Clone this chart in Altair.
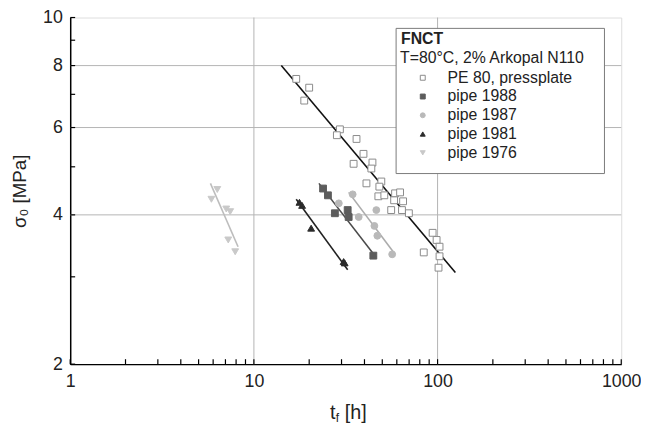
import altair as alt
import pandas as pd

FONT = "Liberation Sans"

# ---- data ----
series_names = ["PE 80, pressplate", "pipe 1988", "pipe 1987", "pipe 1981", "pipe 1976"]

pe_x = [17.0, 20.0, 18.8, 29.4, 28.3, 36.2, 39.5, 34.9, 44.2, 43.6, 41.0, 49.4, 48.2, 47.6,
        51.3, 58.7, 62.5, 58.0, 64.9, 55.9, 64.0, 69.8, 94.0, 98.8, 102.5, 84.1, 102.5, 101.2]
pe_y = [7.52, 7.22, 6.80, 5.95, 5.79, 5.69, 5.31, 5.07, 5.10, 4.96, 4.63, 4.67, 4.56, 4.36,
        4.38, 4.42, 4.44, 4.28, 4.26, 4.09, 4.09, 4.03, 3.68, 3.56, 3.45, 3.36, 3.30, 3.13]

p88_x = [23.8, 25.3, 32.4, 27.6, 32.8, 44.7]
p88_y = [4.52, 4.38, 4.09, 4.03, 3.96, 3.31]

p87_x = [29.0, 34.5, 37.2, 46.4, 45.3, 47.0, 56.6]
p87_y = [4.22, 4.40, 3.96, 4.09, 3.80, 3.63, 3.33]

p81_x = [17.7, 18.3, 20.5, 30.8, 31.2]
p81_y = [4.24, 4.18, 3.76, 3.22, 3.20]

p76_x = [6.32, 5.87, 7.07, 7.43, 7.25, 7.91]
p76_y = [4.50, 4.30, 4.11, 4.06, 3.56, 3.37]

# fitted lines: start and end points
fit_x = {"PE 80, pressplate": [14.1, 125.0], "pipe 1988": [22.6, 46.4], "pipe 1987": [32.8, 58.7],
         "pipe 1981": [17.0, 32.4], "pipe 1976": [5.80, 8.20]}
fit_y = {"PE 80, pressplate": [8.0, 3.06], "pipe 1988": [4.63, 3.28], "pipe 1987": [4.44, 3.33],
         "pipe 1981": [4.30, 3.10], "pipe 1976": [4.63, 3.45]}

x_label_values = [1, 10, 100, 1000]
y_label_values = [2, 4, 6, 8, 10]
x_grid = [10, 100]
y_grid = [4, 6, 8]
x_ticks = [1, 2, 3, 4, 5, 6, 7, 8, 9, 10, 20, 30, 40, 50, 60, 70, 80, 90,
           100, 200, 300, 400, 500, 600, 700, 800, 900, 1000]
y_ticks = [2, 3, 4, 5, 6, 7, 8, 9, 10]

# ---- styles ----
shapes = ["square", "square", "circle", "triangle-up", "triangle-down"]
fills = ["white", "#5c5c5c", "#b9b9b9", "#2b2b2b", "#c9c9c9"]
strokes = ["#8a8a8a", "#5c5c5c", "#b9b9b9", "#2b2b2b", "#c9c9c9"]
line_colors = {"PE 80, pressplate": "#111111", "pipe 1988": "#4a4a4a", "pipe 1987": "#acacac",
               "pipe 1981": "#222222", "pipe 1976": "#bdbdbd"}

W, H = 558, 351

rows = []
for name, xs, ys in zip(series_names, [pe_x, p88_x, p87_x, p81_x, p76_x],
                        [pe_y, p88_y, p87_y, p81_y, p76_y]):
    for a, b in zip(xs, ys):
        rows.append({"series": name, "t": a, "s": b})
pts = pd.DataFrame(rows)

lrows = []
for name in series_names:
    for i in range(2):
        lrows.append({"fit": name, "t": fit_x[name][i], "s": fit_y[name][i],
                      "lc": line_colors[name]})
lines = pd.DataFrame(lrows)

xscale = alt.Scale(type="log", domain=[1, 1000], nice=False)
yscale = alt.Scale(type="log", domain=[2, 10], nice=False)
xaxis = alt.Axis(values=x_label_values, format="d", title="", ticks=False, grid=False,
                 labelPadding=9, labelFontSize=18, labelFont=FONT, labelColor="#222",
                 domainColor="black", domainWidth=1.5, labelFlush=False)
yaxis = alt.Axis(values=y_label_values, format="d", title="σ₀ [MPa]", ticks=False, grid=False,
                 labelPadding=8, labelFontSize=18, labelFont=FONT, labelColor="#222",
                 titleFontSize=19, titleFont=FONT, titleFontWeight="normal", titleColor="#222",
                 titlePadding=13, domainColor="black", domainWidth=1.5, labelFlush=False)


def X(f):
    return alt.X(f, type="quantitative", scale=xscale, axis=xaxis)


def Y(f):
    return alt.Y(f, type="quantitative", scale=yscale, axis=yaxis)


gx = alt.Chart(pd.DataFrame({"v": x_grid})).mark_rule(color="#b4b4b4", strokeWidth=1).encode(x=X("v"))
gy = alt.Chart(pd.DataFrame({"v": y_grid})).mark_rule(color="#b4b4b4", strokeWidth=1).encode(y=Y("v"))

tx = alt.Chart(pd.DataFrame({"v": x_ticks})).mark_rule(color="black", strokeWidth=1.2).encode(
    x=X("v"), y=alt.value(H), y2=alt.value(H - 5))
ty = alt.Chart(pd.DataFrame({"v": y_ticks})).mark_rule(color="black", strokeWidth=1.2).encode(
    y=Y("v"), x=alt.value(0), x2=alt.value(5))

fit = alt.Chart(lines).mark_line(strokeWidth=1.6).encode(
    x=X("t"), y=Y("s"), detail="fit:N", color=alt.Color("lc:N", scale=None))

leg = alt.Legend(title=None, orient="none", legendX=349, legendY=53, padding=0,
                 labelFont=FONT, labelFontSize=16, labelColor="#222", rowPadding=3,
                 symbolSize=25, symbolStrokeWidth=1, labelOffset=17, zindex=1)

points = alt.Chart(pts).mark_point(filled=True, size=48, strokeWidth=1, opacity=1).encode(
    x=X("t"), y=Y("s"),
    shape=alt.Shape("series:N", scale=alt.Scale(domain=series_names, range=shapes), legend=leg),
    fill=alt.Fill("series:N", scale=alt.Scale(domain=series_names, range=fills), legend=leg),
    stroke=alt.Stroke("series:N", scale=alt.Scale(domain=series_names, range=strokes), legend=leg),
)

one = pd.DataFrame({"k": [0]})
box = alt.Chart(one).mark_rect(fill="white", stroke="#7a7a7a", strokeWidth=1).encode(
    x=alt.value(330), x2=alt.value(541), y=alt.value(11), y2=alt.value(158))


def txt(s, x, y, size, weight="normal", baseline="middle"):
    return alt.Chart(pd.DataFrame({"s": [s]})).mark_text(
        align="left", baseline=baseline, font=FONT, fontSize=size, fontWeight=weight,
        color="#222").encode(text="s:N", x=alt.value(x), y=alt.value(y))


t1 = txt("FNCT", 335, 22, 16, "bold")
t2 = txt("T=80°C, 2% Arkopal N110", 334, 41, 16)
xt1 = txt("t", 263, 407, 20, baseline="alphabetic")
xt2 = txt("f", 269, 410, 12, baseline="alphabetic")
xt3 = txt("[h]", 278, 407, 20, baseline="alphabetic")

chart = alt.layer(gx, gy, tx, ty, fit, points, box, t1, t2, xt1, xt2, xt3).properties(
    width=W, height=H,
    padding={"left": 63, "top": 7, "right": 20, "bottom": 60},
    autosize=alt.AutoSizeParams(type="none"),
).configure_view(stroke="black", strokeWidth=1.5).configure(background="white")

chart.save("out.html", embed_options={"renderer": "svg", "actions": False})
